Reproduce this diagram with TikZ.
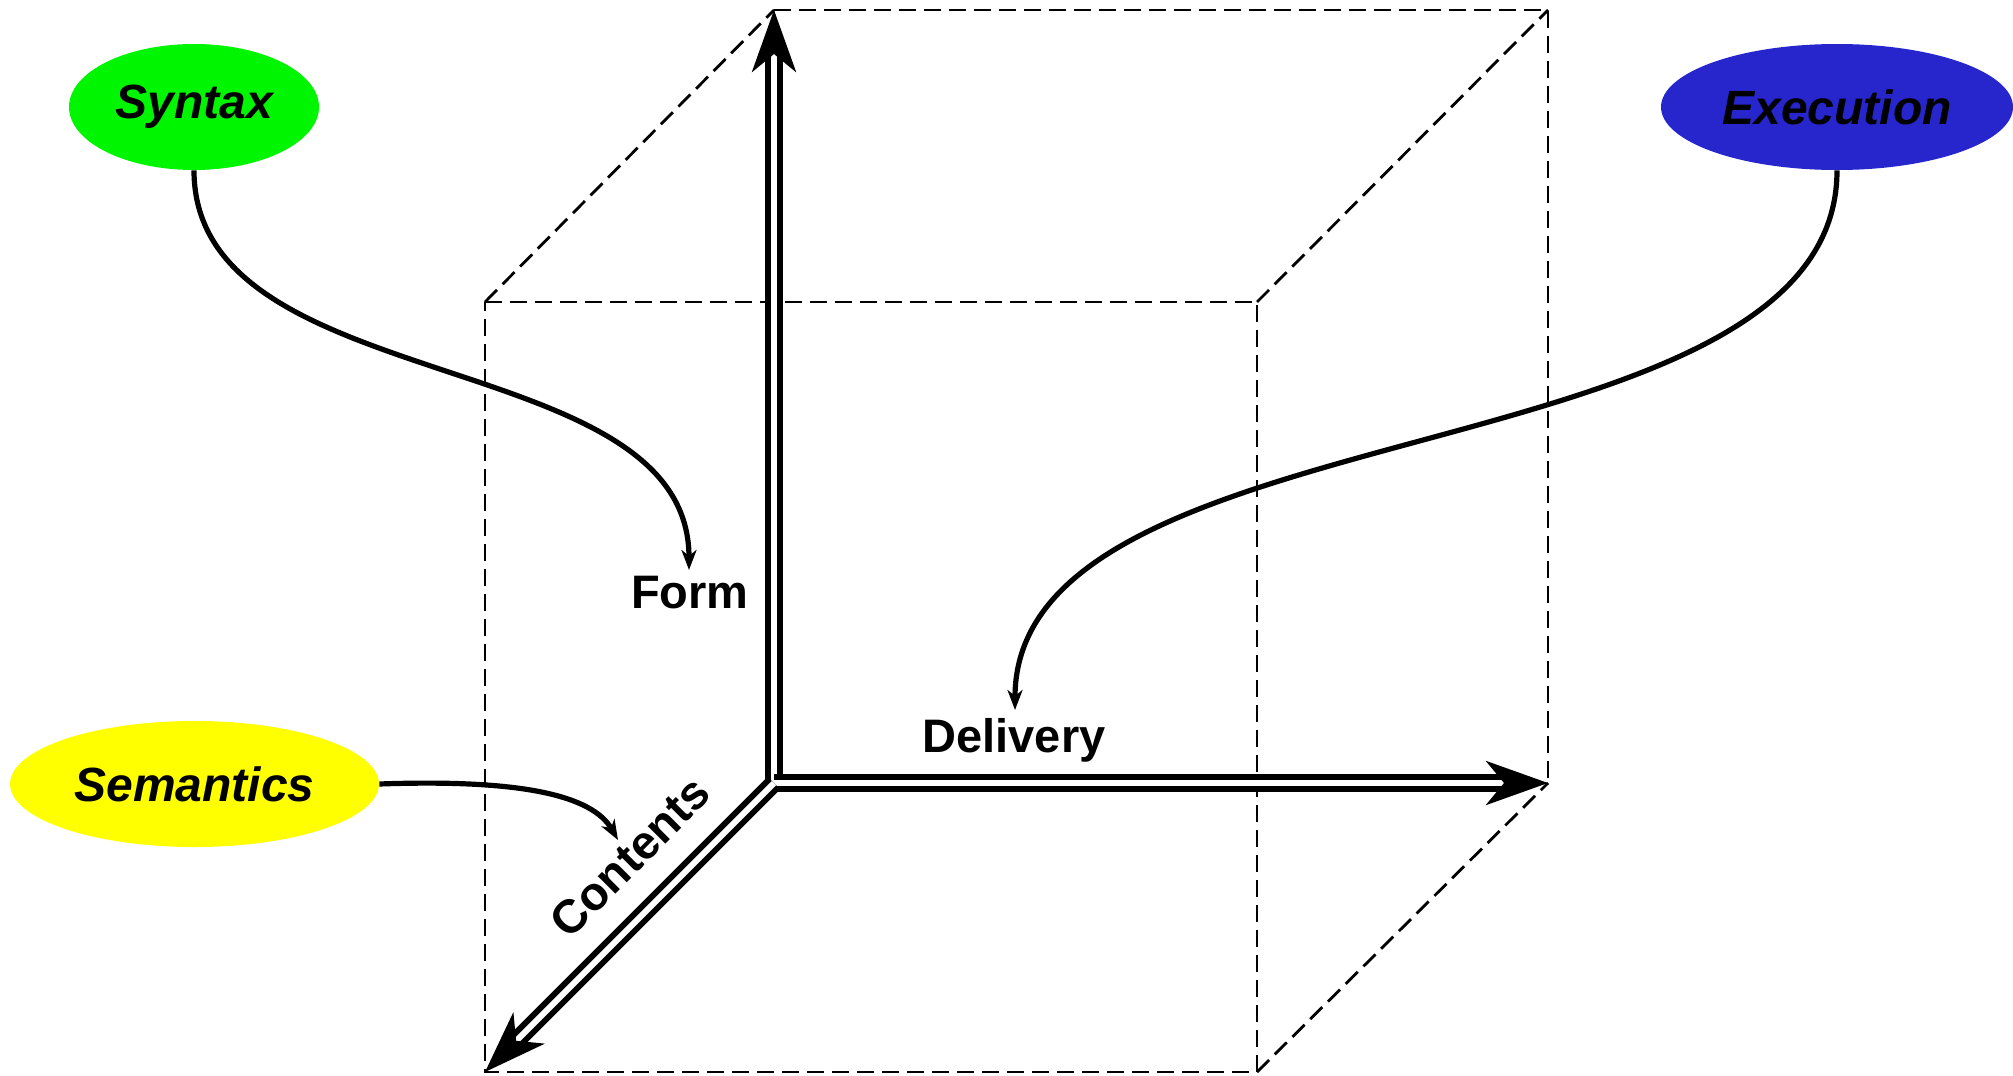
\documentclass[tikz,border=0pt]{standalone}
\usepackage{fontspec}
\setmainfont{Liberation Sans}
\usetikzlibrary{arrows.meta,shapes.geometric}
\definecolor{synGreen}{RGB}{0,245,0}
\definecolor{exeBlue}{RGB}{38,38,204}
\definecolor{semYellow}{RGB}{255,255,0}
\begin{document}
\begin{tikzpicture}[x=0.5pt,y=-0.5pt,
  cubeline/.style={line width=1.4pt, dash pattern=on 8.5pt off 4pt},
  axis/.style={double, double distance=3pt, line width=3pt,
    -{Stealth[length=31pt,width=22pt,inset=9pt]}},
  link/.style={line width=2.6pt, -{Stealth[length=10pt,width=7.5pt,inset=3pt]}},
  axlabel/.style={font=\fontsize{23.5pt}{28pt}\selectfont\bfseries, inner sep=0pt},
  ell/.style={ellipse, inner sep=0pt, draw=none, minimum height=63pt,
    font=\fontsize{24pt}{28pt}\selectfont\bfseries\itshape}]
\useasboundingbox (0,0) rectangle (2013,1076);

% cube corners
\coordinate (O) at (774,783);
\coordinate (btl) at (774,10);
\coordinate (btr) at (1548,10);
\coordinate (bbr) at (1548,783);
\coordinate (ftl) at (485,302);
\coordinate (ftr) at (1257,302);
\coordinate (fbr) at (1257,1072);
\coordinate (fbl) at (485,1072);

% dashed cube edges
\draw[cubeline] (ftl) -- (ftr) -- (fbr) -- (fbl) -- cycle;
\draw[cubeline] (ftl) -- (btl);
\draw[cubeline] (btl) -- (btr) -- (bbr);
\draw[cubeline] (ftr) -- (btr);
\draw[cubeline] (fbr) -- (bbr);

% axes
\draw[axis] (O) -- (btl);
\draw[axis] (O) -- (bbr);
\draw[axis] (O) -- (fbl);

% ellipses
\node[ell, fill=synGreen, minimum width=125pt] (syntax) at (194,107) {Syntax};
\node[ell, fill=exeBlue, minimum width=176pt] (exec) at (1837,107) {Execution};
\node[ell, fill=semYellow, minimum width=184.5pt] (sem) at (194.5,784) {Semantics};

% axis labels
\node[axlabel, anchor=base] (form) at (690,608) {Form};
\node[axlabel, anchor=base] (deliv) at (1014,752) {Delivery};
\node[axlabel, rotate=45] (cont) at (630,857) {Contents};

% connector ends
\coordinate (formTip) at (689,570);
\coordinate (delTip) at (1015,710);
\coordinate (contTip) at (618,840);

\draw[link] (syntax.south) .. controls (194,400) and (689,343) .. (formTip);
\draw[link] (exec.south) .. controls (1837,481) and (1015,401) .. (delTip);
\draw[link] (sem.east) .. controls (520,779) and (592,795) .. (contTip);
\end{tikzpicture}
\end{document}
